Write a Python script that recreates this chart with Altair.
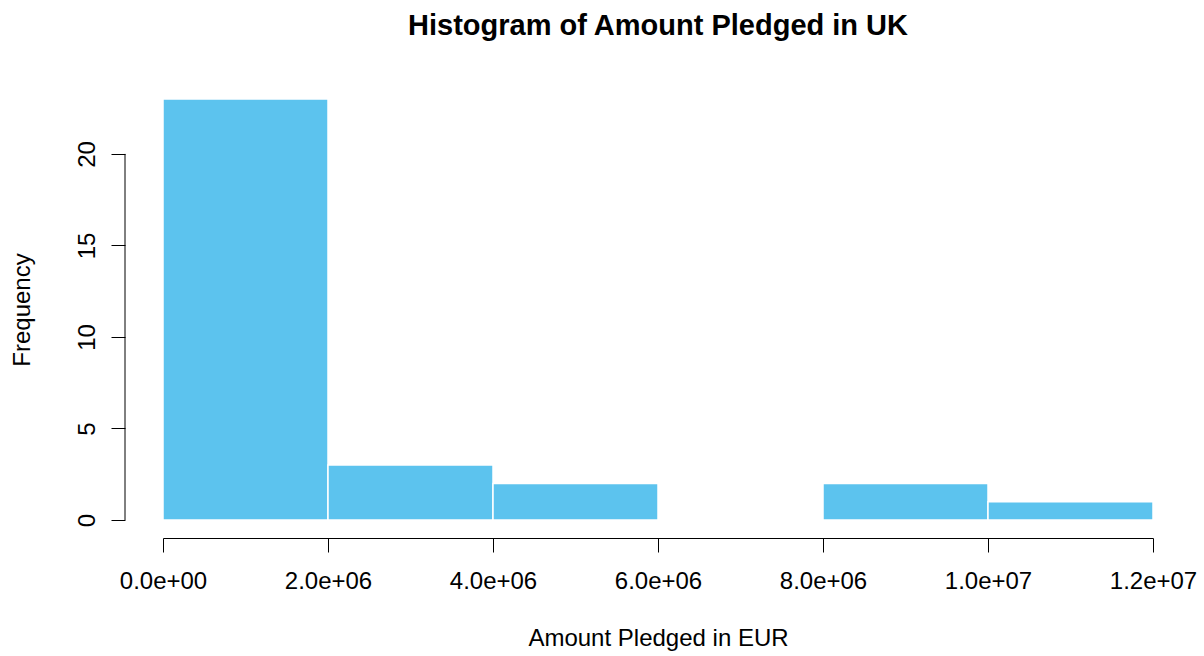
import altair as alt
import pandas as pd

bin_starts = [0, 2000000, 4000000, 6000000, 8000000, 10000000]
bin_ends = [2000000, 4000000, 6000000, 8000000, 10000000, 12000000]
counts = [23, 3, 2, 0, 2, 1]

x_tick_values = [0, 2000000, 4000000, 6000000, 8000000, 10000000, 12000000]
x_tick_labels = ["0.0e+00", "2.0e+06", "4.0e+06", "6.0e+06", "8.0e+06", "1.0e+07", "1.2e+07"]
y_tick_values = [0, 5, 10, 15, 20]

df = pd.DataFrame({"start": bin_starts, "end": bin_ends, "count": counts, "base": [0] * len(counts)})

label_expr = ""
for v, l in zip(x_tick_values, x_tick_labels):
    label_expr += f"datum.value == {v} ? '{l}' : "
label_expr += "''"

FONT = "Liberation Sans"

x_scale = alt.Scale(domain=[0, 12000000], nice=False, zero=False, padding=0)
y_scale = alt.Scale(domain=[0, 23], nice=False, padding=0)

bars = alt.Chart(df).mark_bar(color="#5CC3EE", stroke="white", strokeWidth=1.5, orient="vertical").encode(
    x=alt.X("start:Q", scale=x_scale, axis=alt.Axis(
        values=x_tick_values, labelExpr=label_expr, title="Amount Pledged in EUR",
        offset=18, tickSize=14, tickColor="black", domainColor="black",
        labelFont=FONT, labelFontSize=24, labelColor="black", labelPadding=17,
        titleFont=FONT, titleFontSize=24, titleFontWeight="normal", titleColor="black",
        titlePadding=33, grid=False, labelFlush=False, labelOverlap=False)),
    x2="end:Q",
    y=alt.Y("count:Q", scale=y_scale, axis=alt.Axis(
        values=y_tick_values, title="Frequency", offset=38, domain=False,
        tickSize=14, tickColor="black", labelAngle=270, labelAlign="center",
        labelBaseline="bottom", labelPadding=12,
        labelFont=FONT, labelFontSize=24, labelColor="black",
        titleFont=FONT, titleFontSize=24, titleFontWeight="normal", titleColor="black",
        titlePadding=41, grid=False)),
    y2="base:Q",
)

axis_line = alt.Chart(pd.DataFrame({"lo": [0], "hi": [20]})).mark_rule(color="black", strokeWidth=1).encode(
    y=alt.Y("lo:Q", scale=y_scale),
    y2="hi:Q",
    x=alt.value(-38),
)

chart = alt.layer(bars, axis_line).properties(
    width=990, height=421,
    background="white",
    title=alt.TitleParams("Histogram of Amount Pledged in UK", font=FONT, fontSize=29,
                          fontWeight="bold", color="black", anchor="middle", offset=57),
    autosize=alt.AutoSizeParams(type="none"),
    padding={"left": 163, "top": 99, "right": 51, "bottom": 136},
).configure_view(strokeWidth=0, stroke="transparent")

chart.save("out.html", embed_options={"renderer": "svg", "actions": False})
